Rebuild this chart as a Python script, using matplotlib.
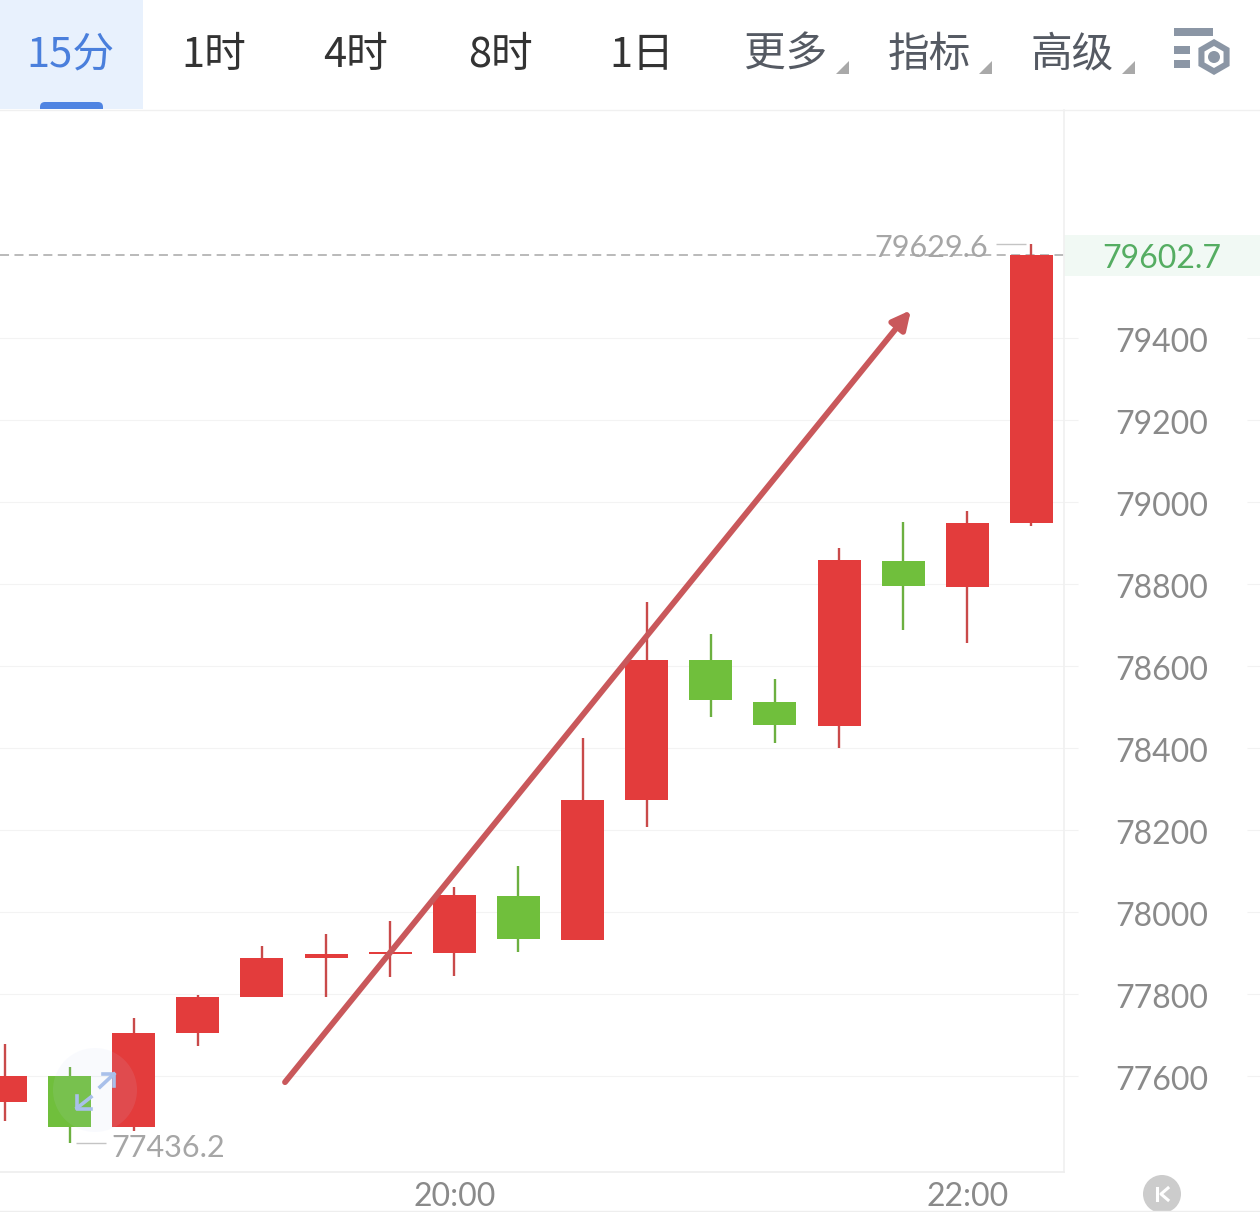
import matplotlib
matplotlib.use('Agg')
import matplotlib.pyplot as plt
import numpy as np
from matplotlib.patches import Rectangle, Polygon, Circle, FancyBboxPatch, RegularPolygon
from matplotlib.transforms import ScaledTranslation

plt.rcParams['font.family'] = ['Noto Sans CJK SC', 'DejaVu Sans']

# candle data
opens = [77537, 77600, 77476, 77705, 77793, 77888, 77898, 77900, 78039, 77932,
         78273, 78615, 78512, 78454, 78856, 78793, 78949]
closes = [77600, 77476, 77705, 77793, 77888, 77898, 77902, 78041, 77934, 78273,
          78615, 78517, 78456, 78859, 78795, 78949, 79602.7]
highs = [77678, 77622, 77741, 77798, 77917, 77946, 77978, 78061, 78112, 78424,
         78756, 78678, 78568, 78888, 78951, 78978, 79629.6]
lows = [77490, 77436.2, 77466, 77673, 77793, 77793, 77841, 77844, 77902, 77932,
        78207, 78476, 78412, 78400, 78688, 78656, 78941]

price_ticks = [77600, 77800, 78000, 78200, 78400, 78600, 78800, 79000, 79200, 79400]
time_pos = [7, 15]
time_labels = ['20:00', '22:00']
last_price = 79602.7
max_price = 79629.6
min_price = 77436.2
tabs = ['15分', '1时', '4时', '8时', '1日', '更多', '指标', '高级']
tab_x = [70, 214, 356, 500, 642, 786, 929, 1072]

RED = '#e33c3c'
GREEN = '#70bf3c'
W, H = 1260, 1212
STEP = 64.13

fig = plt.figure(figsize=(12.6, 12.12), dpi=100)
ax = fig.add_axes([0, (H - 1172) / H, 1064 / W, (1172 - 110) / H])
ax.set_xlim(-5.4 / STEP, (1064 - 5.4) / STEP)
ax.set_ylim(77365.9, 79956.1)

for s in ['top', 'left']:
    ax.spines[s].set_visible(False)
ax.spines['right'].set_color('#f0f0f0')
ax.spines['bottom'].set_color('#eeeeee')
ax.spines['right'].set_linewidth(1.2)
ax.spines['bottom'].set_linewidth(1.2)

ax.yaxis.tick_right()
ax.set_yticks(price_ticks)
ax.set_yticklabels([str(p) for p in price_ticks], fontsize=23, color='#8a8a8a', family='Lato')
ax.tick_params(axis='y', length=10, width=0.8, color='#f2f2f2', pad=27)
for lab in ax.get_yticklabels():
    lab.set_transform(lab.get_transform() + ScaledTranslation(0, -2 / 100, fig.dpi_scale_trans))
ax.set_xticks(time_pos)
ax.set_xticklabels(time_labels, fontsize=23, color='#8a8a8a', family='Lato')
ax.tick_params(axis='x', length=0, pad=7)
ax.grid(True, axis='y', color='#f3f3f3', lw=0.8)
ax.set_axisbelow(True)

# little stubs of the grid on the far right edge
trans = ax.get_yaxis_transform()
ax.hlines(price_ticks, 1247 / 1064, W / 1064, color='#f2f2f2', lw=0.8, transform=trans, clip_on=False)

# last price band and dashed line
ax.axhline(last_price, color='#b4b4b4', lw=1.3, ls=(0, (5, 3)), zorder=1)
ax.add_patch(Rectangle((1.0, last_price - 51), 196 / 1064, 100, transform=trans,
                       color='#f1f9f4', lw=0, clip_on=False))
ax.annotate(str(last_price), (1162 / 1064, last_price), xycoords=trans, xytext=(0, -4),
            textcoords='offset pixels', fontsize=23, color='#55ad62',
            family='Lato', ha='center', va='center', annotation_clip=False)

for i in range(len(opens)):
    col = RED if closes[i] >= opens[i] else GREEN
    wick = '#c94a4a' if col == RED else '#6cb040'
    ax.vlines(i, lows[i], highs[i], color=wick, lw=1.7, zorder=2)
    ax.bar(i, abs(closes[i] - opens[i]), bottom=min(opens[i], closes[i]), width=43 / STEP,
           color=col, zorder=3)

# max and min labels
imax = int(np.argmax(highs))
imin = int(np.argmin(lows))
ax.annotate(str(max_price), (imax, max_price), xytext=(-43, -4), textcoords='offset pixels',
            fontsize=22, color='#a6a6a6', family='Lato', ha='right', va='center', zorder=4)
ax.hlines(max_price, imax - 35 / STEP, imax - 5 / STEP, color='#c4c4c4', lw=1, zorder=2)
ax.annotate(str(min_price), (imin, min_price), xytext=(42, -5), textcoords='offset pixels',
            fontsize=22, color='#a6a6a6', family='Lato', ha='left', va='center', zorder=4)
ax.hlines(min_price, imin + 6 / STEP, imin + 36 / STEP, color='#c4c4c4', lw=1, zorder=2)

# hand drawn arrow
ax.annotate('', xy=(14.12, 79468), xytext=(4.36, 77585),
            arrowprops=dict(arrowstyle='-|>,head_length=1.1,head_width=0.55', color='#c9585b', lw=4.2,
                            shrinkA=0, shrinkB=0, capstyle='round'), zorder=5)

# chrome on top, in picture pixels
top = fig.add_axes([0, 0, 1, 1], facecolor='none')
top.set_xlim(0, W)
top.set_ylim(H, 0)
top.axis('off')

top.add_patch(Rectangle((0, 0), 143, 109, color='#e8f1fd', lw=0))
top.add_patch(FancyBboxPatch((40, 102), 63, 14, boxstyle='round,pad=0,rounding_size=5',
                             color='#4f84e2', lw=0))
top.add_patch(Rectangle((0, 109), 143, 10, color='white', lw=0))
top.plot([0, W], [109.5, 109.5], color='#f0f0f0', lw=1)
top.plot([0, W], [1211, 1211], color='#eeeeee', lw=1)

for k, (t, x) in enumerate(zip(tabs, tab_x)):
    col = '#4a7fdc' if k == 0 else ('#333333' if k < 5 else '#555a63')
    top.text(x, 55, t, fontsize=30, color=col, ha='center', va='center')

for x in [849, 992, 1135]:
    top.add_patch(Polygon([(x, 61), (x, 74), (x - 13, 74)], color='#a9a9a9', lw=0))

# settings icon
top.add_patch(Rectangle((1174, 28), 39, 8, color='#8b96a5', lw=0))
top.add_patch(Rectangle((1174, 46), 16, 8, color='#8b96a5', lw=0))
top.add_patch(Rectangle((1174, 60), 16, 8, color='#8b96a5', lw=0))
top.add_patch(RegularPolygon((1214, 57), 6, radius=18, color='#8b96a5', lw=0))
top.add_patch(RegularPolygon((1214, 57), 6, radius=11, color='white', lw=0))
top.add_patch(Circle((1214, 57), 6, color='#8b96a5', lw=0))

# expand icon over the candles
top.add_patch(Circle((95, 1090), 42, color='#c8d6f5', alpha=0.1, lw=0))
top.plot([100, 114], [1087, 1074], color='#a9c0ea', lw=2.6)
top.plot([103, 114, 114], [1074, 1074, 1086], color='#a9c0ea', lw=2.6)
top.plot([91, 77], [1097, 1108], color='#a9c0ea', lw=2.6)
top.plot([77, 77, 91], [1096, 1109, 1109], color='#a9c0ea', lw=2.6)

# K button
top.add_patch(Circle((1162, 1194), 19, color='#cccccc', lw=0))
top.plot([1157, 1157], [1188, 1200], color='white', lw=2.2)
top.plot([1168, 1161, 1168], [1188, 1194, 1200], color='white', lw=2.2)

fig.savefig('out.png', dpi=100)
